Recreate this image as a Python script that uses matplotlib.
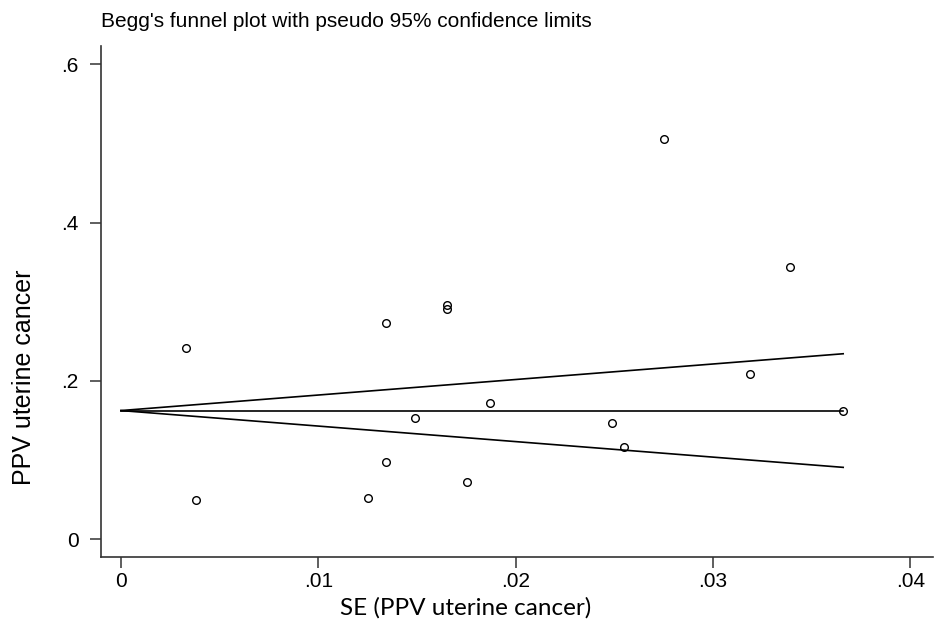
import numpy as np
import matplotlib
matplotlib.use('Agg')
import matplotlib.pyplot as plt

# study standard errors and PPV estimates
se = [0.00328, 0.0038, 0.01253, 0.01341, 0.01344, 0.01652, 0.01652, 0.01488,
      0.01868, 0.01752, 0.02489, 0.02549, 0.02751, 0.0319, 0.0339, 0.0366]
ppv = [0.241, 0.0496, 0.0518, 0.2735, 0.0972, 0.2958, 0.2904, 0.1532,
       0.1725, 0.0720, 0.1465, 0.1169, 0.505, 0.2087, 0.344, 0.162]

# pooled estimate (horizontal line)
theta = 0.1626

xticks = [0, 0.01, 0.02, 0.03, 0.04]
xticklabels = ['0', '.01', '.02', '.03', '.04']
yticks = [0, 0.2, 0.4, 0.6]
yticklabels = ['0', '.2', '.4', '.6']

fig = plt.figure(figsize=(9.37, 6.3), dpi=100)
ax = fig.add_axes([0.1078, 0.1163, 0.8879, 0.8107])

# pseudo 95% limits drawn at each observed SE
se_line = np.concatenate([[0.0], np.sort(se)])
ax.plot(se_line, theta + 1.96 * se_line, color='black', lw=1.2)
ax.plot(se_line, theta - 1.96 * se_line, color='black', lw=1.2)
ax.plot([0, max(se)], [theta, theta], color='black', lw=1.2)

ax.plot(se, ppv, linestyle='none', marker='o', markersize=5.5,
        markerfacecolor='none', markeredgecolor='black', markeredgewidth=1.0)

ax.set_xlim(-0.00101, 0.04115)
ax.set_ylim(-0.022, 0.623)
ax.set_xticks(xticks)
ax.set_xticklabels(xticklabels)
ax.set_yticks(yticks)
ax.set_yticklabels(yticklabels)

for side in ['top', 'right']:
    ax.spines[side].set_visible(False)
for side in ['left', 'bottom']:
    ax.spines[side].set_color('#333333')
    ax.spines[side].set_linewidth(1.2)

ax.tick_params(axis='both', direction='out', length=8, width=1.1, color='#333333',
               labelsize=15)
ax.tick_params(axis='y', pad=8)
ax.tick_params(axis='x', pad=3)
for lab in ax.get_xticklabels() + ax.get_yticklabels():
    lab.set_family('Liberation Sans')

fig.text(101 / 937, 1 - 27 / 630, "Begg's funnel plot with pseudo 95% confidence limits",
         family='Liberation Sans', fontsize=15, ha='left', va='baseline')
fig.text(24 / 937, 1 - 377 / 630, 'PPV uterine cancer', family='Liberation Sans',
         fontsize=18, rotation=90, ha='center', va='center')
fig.text(466 / 937, 1 - 608 / 630, 'SE (PPV uterine cancer)', family='Lato',
         fontsize=17.5, ha='center', va='center')

fig.savefig('out.png', dpi=100)
